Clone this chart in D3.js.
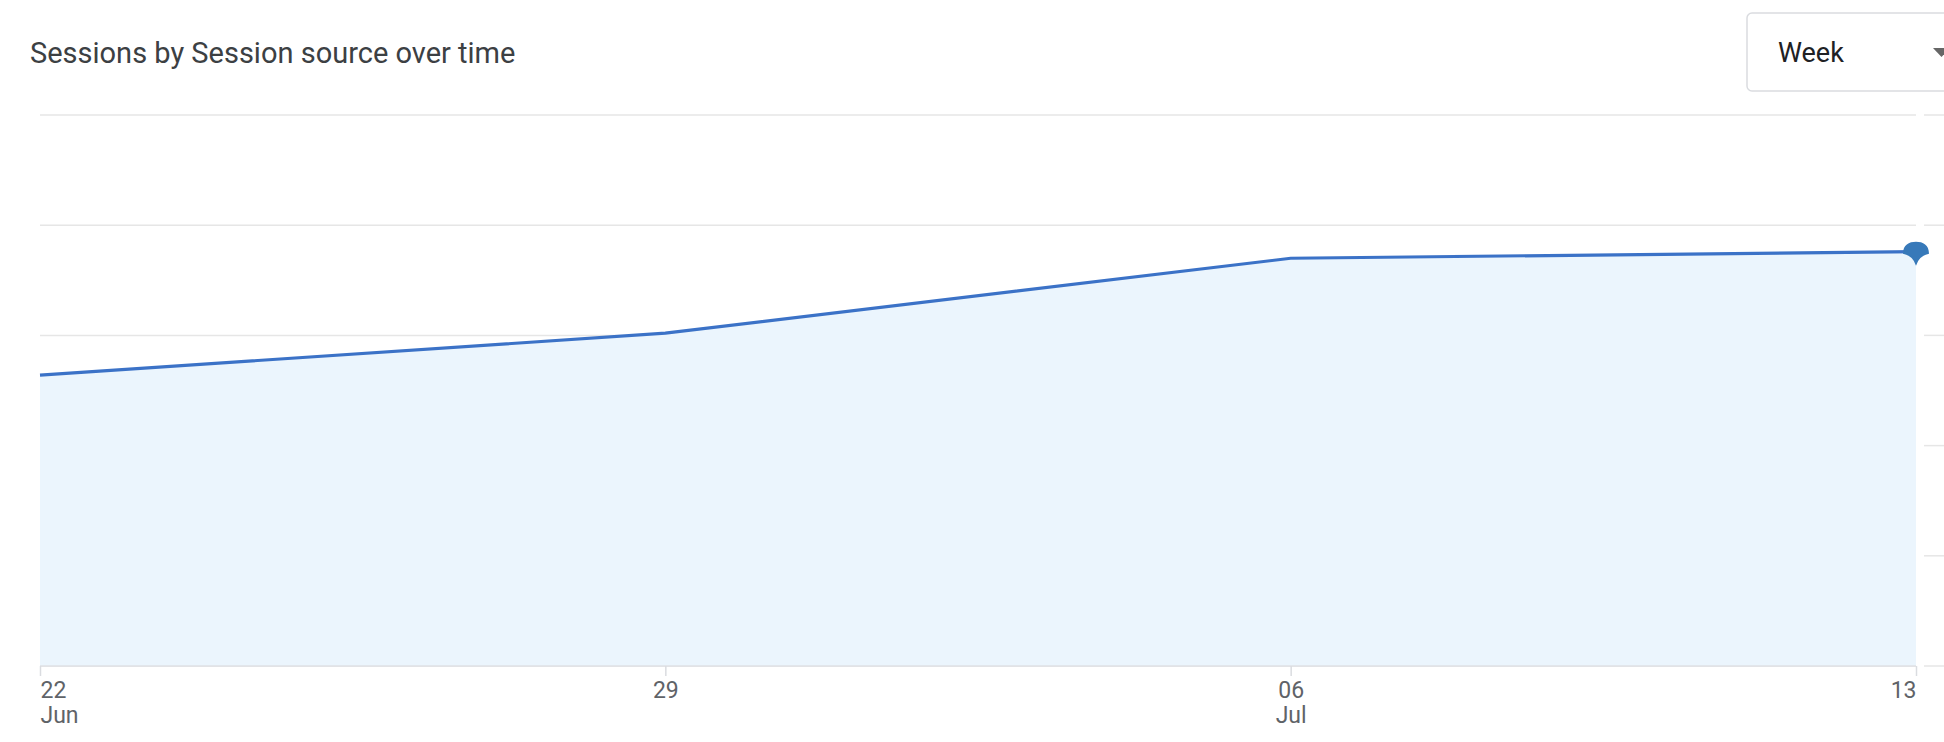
<!DOCTYPE html>
<meta charset="utf-8">
<title>Sessions by Session source over time</title>
<style>
body { margin: 0; background: #fff; }
.grid line { stroke: #e6e6e6; stroke-width: 1.5px; }
.axis text { fill: #5f6368; font-family: Roboto, sans-serif; font-size: 23px; }
</style>
<script src="https://d3js.org/d3.v7.min.js"></script>
<body>
<script>
var width = 1944;
var height = 742;

// weekly data
var weeks = ["2025-06-22", "2025-06-29", "2025-07-06", "2025-07-13"];
var sessions = [132, 151, 185, 188];
var gridValues = [0, 50, 100, 150, 200, 250];
var dayLabels = ["22", "29", "06", "13"];
var monthLabels = ["Jun", "", "Jul", ""];

var parse = d3.timeParse("%Y-%m-%d");
var data = weeks.map(function(w, i) { return { date: parse(w), value: sessions[i] }; });

var margin = { left: 40, right: 28, top: 115, bottom: 76 };

var svg = d3.select("body").append("svg")
    .attr("width", width)
    .attr("height", height);

var x = d3.scaleTime()
    .domain(d3.extent(data, function(d) { return d.date; }))
    .range([margin.left, width - margin.right]);

var y = d3.scaleLinear()
    .domain([0, 250])
    .range([height - margin.bottom, margin.top]);

// title
svg.append("text")
    .attr("x", 30)
    .attr("y", 63)
    .attr("fill", "#3c4043")
    .style("font-family", "Roboto, sans-serif")
    .style("font-size", "29px")
    .text("Sessions by Session source over time");

// dropdown
svg.append("rect")
    .attr("x", 1747)
    .attr("y", 13)
    .attr("width", 220)
    .attr("height", 78)
    .attr("rx", 5)
    .attr("fill", "#fff")
    .attr("stroke", "#dadce0")
    .attr("stroke-width", 1.5);
svg.append("text")
    .attr("x", 1778)
    .attr("y", 62)
    .attr("fill", "#202124")
    .style("font-family", "Roboto, sans-serif")
    .style("font-size", "27px")
    .text("Week");
svg.append("path")
    .attr("d", "M1933,48L1950,48L1941.5,57Z")
    .attr("fill", "#666");

// gridlines
var grid = svg.append("g").attr("class", "grid");
grid.selectAll("line.g1")
    .data(gridValues)
  .enter().append("line")
    .attr("class", "g1")
    .attr("x1", margin.left)
    .attr("x2", x.range()[1])
    .attr("y1", function(d) { return y(d); })
    .attr("y2", function(d) { return y(d); });
grid.selectAll("line.g2")
    .data(gridValues)
  .enter().append("line")
    .attr("class", "g2")
    .attr("x1", x.range()[1] + 8)
    .attr("x2", width)
    .attr("y1", function(d) { return y(d); })
    .attr("y2", function(d) { return y(d); });

// area + line
var area = d3.area()
    .x(function(d) { return x(d.date); })
    .y0(y(0))
    .y1(function(d) { return y(d.value); });
var line = d3.line()
    .x(function(d) { return x(d.date); })
    .y(function(d) { return y(d.value); });

svg.append("path")
    .datum(data)
    .attr("d", area)
    .attr("fill", "#ebf5fd");

svg.append("line")
    .attr("x1", margin.left)
    .attr("x2", x.range()[1])
    .attr("y1", y(0))
    .attr("y2", y(0))
    .attr("stroke", "#dfe1e5")
    .attr("stroke-width", 1.5);

svg.append("path")
    .datum(data)
    .attr("d", line)
    .attr("fill", "none")
    .attr("stroke", "#3b72c7")
    .attr("stroke-width", 3.2);

// marker on the last point
var last = data[data.length - 1];
svg.append("path")
    .attr("transform", "translate(" + x(last.date) + "," + y(last.value) + ")")
    .attr("d", "M-13,2C-13,-7 -7,-10 0,-10C7,-10 13,-7 13,2Q3,4 0,14Q-3,4 -13,2Z")
    .attr("fill", "#3779b9");

// x axis
var xAxis = d3.axisBottom(x)
    .tickValues(data.map(function(d) { return d.date; }))
    .tickSize(10)
    .tickFormat("");
var gx = svg.append("g")
    .attr("class", "axis")
    .attr("transform", "translate(0," + y(0) + ")")
    .call(xAxis);
gx.select(".domain").remove();
gx.selectAll(".tick line").attr("stroke", "#dadce0").attr("stroke-width", 1.5);

var labels = gx.selectAll(".tick").append("text")
    .attr("y", 32)
    .attr("text-anchor", function(d, i) { return i === 0 ? "start" : (i === data.length - 1 ? "end" : "middle"); });
labels.append("tspan")
    .attr("x", 0)
    .text(function(d, i) { return dayLabels[i]; });
labels.append("tspan")
    .attr("x", 0)
    .attr("dy", 25)
    .text(function(d, i) { return monthLabels[i]; });
</script>
</body>
